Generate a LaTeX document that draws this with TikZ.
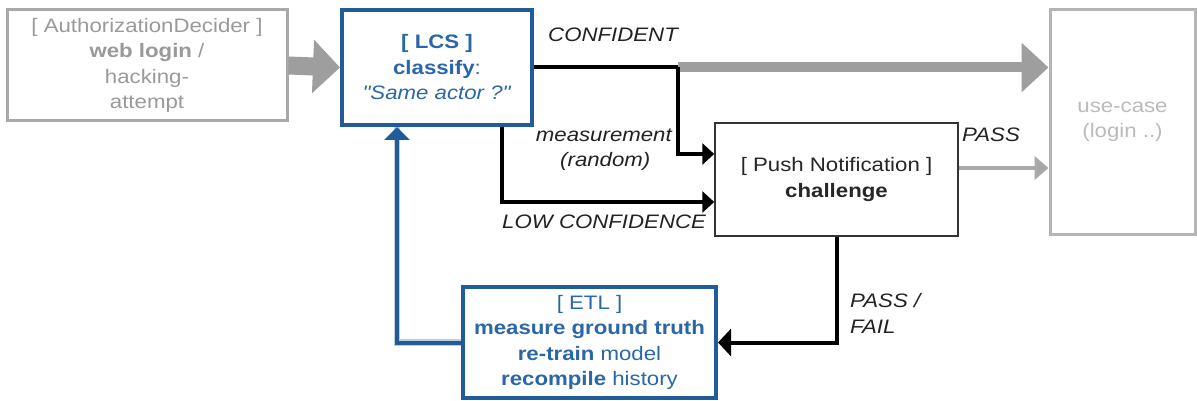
\documentclass[tikz,border=0pt]{standalone}
\usepackage{fontspec}
\setmainfont[FakeStretch=1.14, Ligatures=TeXOff]{Liberation Sans}
\usetikzlibrary{arrows.meta}

\definecolor{lcsblue}{HTML}{1F5C99}
\definecolor{lcstext}{HTML}{2A67A8}
\definecolor{fadegray}{HTML}{A8A8A8}
\definecolor{fadetext}{HTML}{9A9A9A}
\definecolor{paletext}{HTML}{BBBBBB}
\definecolor{arrowgray}{HTML}{9E9E9E}
\definecolor{labelink}{HTML}{222222}

\tikzset{
  txt/.style={font=\fontsize{19.5}{25.5}\selectfont},
  box/.style={rectangle, draw, inner sep=0pt, align=center, txt},
  greybox/.style={box, draw=fadegray, line width=3pt, text=fadetext},
  bluebox/.style={box, draw=lcsblue, line width=4pt, text=lcstext},
  plainbox/.style={box, draw=black!80, line width=1.5pt, text=black!85},
  lbl/.style={inner sep=0pt, txt, font=\fontsize{19.5}{25.5}\selectfont\itshape, text=labelink},
  flow/.style={draw=black, line width=4pt, -{Triangle[length=12pt,width=21pt]}},
  feedback/.style={draw=lcsblue, line width=4pt, -{Triangle[length=13pt,width=25pt]}},
}

\begin{document}
\begin{tikzpicture}[x=1pt,y=-1pt]
  \fill[white] (0,0) rectangle (1197,401);
  \useasboundingbox (0,0) rectangle (1197,401);

  % boxes
  \node[greybox, minimum width=280pt, minimum height=111pt] (auth) at (147,65.5)
    {[ AuthorizationDecider ]\\ \textbf{web login} /\\ hacking-\\ attempt};
  \node[bluebox, minimum width=190pt, minimum height=115pt] (lcs) at (437,67.5)
    {\textbf{[ LCS ]}\\ \textbf{classify}:\\ \textit{"Same actor ?"}};
  \node[plainbox, minimum width=243pt, minimum height=113pt] (push) at (836.5,179.5)
    {[ Push Notification ]\\ \textbf{challenge}};
  \node[bluebox, minimum width=253pt, minimum height=111pt] (etl) at (589.5,342.5)
    {[ ETL ]\\ \textbf{measure ground truth}\\ \textbf{re-train} model\\ \textbf{recompile} history};
  \node[greybox, text=paletext, draw=fadegray!85, minimum width=145pt, minimum height=224pt] (use) at (1122.5,122)
    {use-case\\ (login ..)};

  % incoming request
  \draw[arrowgray, line width=18pt, -{Triangle[length=27pt,width=52pt]}] (auth.east) -- (lcs.west);

  % confident path
  \coordinate (split) at (678,67.5);
  \draw[arrowgray, line width=10pt, -{Triangle[length=27pt,width=48pt]}] (split) -- (use.west |- split);
  \draw[black, line width=4pt] (lcs.east) -- (split);

  % random measurement and low confidence go to the challenge
  \draw[flow] (split) |- ([yshift=25.5pt]push.west);
  \draw[flow] ([xshift=65pt]lcs.south) |- ([yshift=-22.5pt]push.west);

  % challenge passed
  \draw[fadegray, line width=4pt, -{Triangle[length=14pt,width=23pt]}] ([yshift=11.5pt]push.east) -- ([yshift=11.5pt]push.east -| use.west);

  % challenge outcome feeds the ETL
  \draw[black, line width=4pt, -{Triangle[length=13pt,width=27pt]}] (push.south) |- (etl.east);

  % retraining loop back to the classifier
  \draw[lcsblue!30, line width=6.5pt] (etl.west) -| ([xshift=-40pt]lcs.south);
  \draw[feedback] (etl.west) -| ([xshift=-40pt]lcs.south);

  % labels
  \node[lbl, anchor=base west] (lconf) at (548,42) {CONFIDENT};
  \node[lbl, anchor=base east] (lmeas) at (672,142) {measurement};
  \node[lbl, anchor=base west] (lrand) at (560,167) {(random)};
  \node[lbl, anchor=base west] (llow) at (502,228) {LOW CONFIDENCE};
  \node[lbl, anchor=base west] (lpass) at (962,142) {PASS};
  \node[lbl, anchor=base west] (lpf1) at (850,307) {PASS /};
  \node[lbl, anchor=base west] (lpf2) at (850,333) {FAIL};
\end{tikzpicture}
\end{document}
